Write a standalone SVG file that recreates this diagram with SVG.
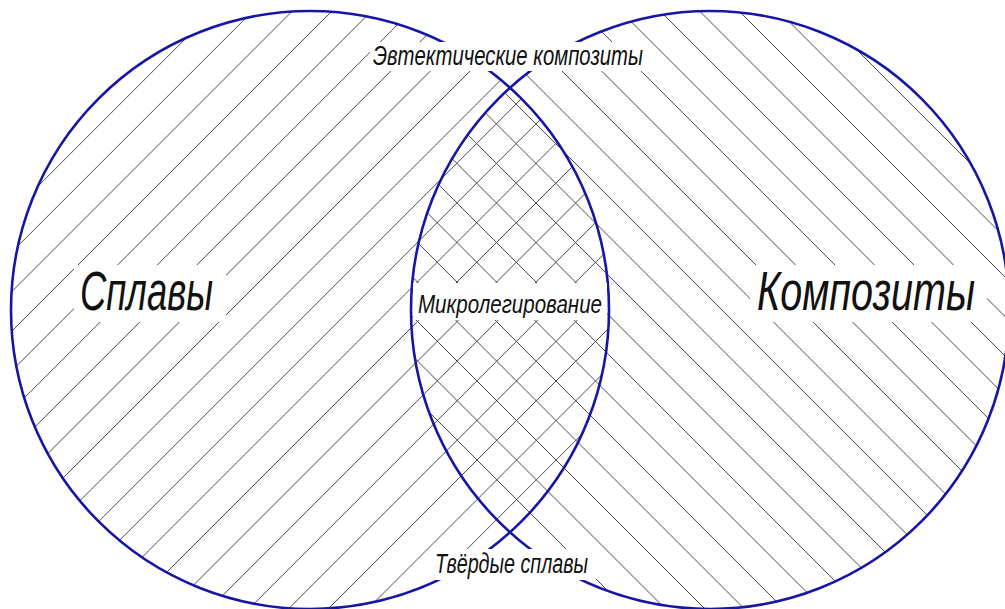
<svg xmlns="http://www.w3.org/2000/svg" width="1005" height="609" viewBox="0 0 1005 609">
<style>
.hatch line{stroke:#4a4a4a;stroke-width:1}
.ring{fill:none;stroke:#1616a6;stroke-width:2.6}
.mask{fill:#ffffff}
.lbl{font-family:"Liberation Sans Narrow","Liberation Sans",Arial,sans-serif;font-style:italic;fill:#111;lengthAdjust:spacingAndGlyphs}
</style>
<defs>
<clipPath id="clipL"><circle cx="310" cy="310" r="299"/></clipPath>
<clipPath id="clipR"><circle cx="710" cy="310" r="299"/></clipPath>
</defs>
<rect width="1005" height="609" fill="#ffffff"/>
<g id="hatch-alloys" class="hatch" clip-path="url(#clipL)">
<line x1="284.6" y1="-100" x2="-515.4" y2="700"/>
<line x1="324.2" y1="-100" x2="-475.8" y2="700"/>
<line x1="363.8" y1="-100" x2="-436.2" y2="700"/>
<line x1="403.4" y1="-100" x2="-396.6" y2="700"/>
<line x1="443" y1="-100" x2="-357" y2="700"/>
<line x1="482.6" y1="-100" x2="-317.4" y2="700"/>
<line x1="522.2" y1="-100" x2="-277.8" y2="700"/>
<line x1="561.8" y1="-100" x2="-238.2" y2="700"/>
<line x1="601.4" y1="-100" x2="-198.6" y2="700"/>
<line x1="641" y1="-100" x2="-159" y2="700"/>
<line x1="680.6" y1="-100" x2="-119.4" y2="700"/>
<line x1="720.2" y1="-100" x2="-79.8" y2="700"/>
<line x1="759.8" y1="-100" x2="-40.2" y2="700"/>
<line x1="799.4" y1="-100" x2="-0.6" y2="700"/>
<line x1="839" y1="-100" x2="39" y2="700"/>
<line x1="878.6" y1="-100" x2="78.6" y2="700"/>
<line x1="918.2" y1="-100" x2="118.2" y2="700"/>
<line x1="957.8" y1="-100" x2="157.8" y2="700"/>
<line x1="997.4" y1="-100" x2="197.4" y2="700"/>
<line x1="1037" y1="-100" x2="237" y2="700"/>
<line x1="1076.6" y1="-100" x2="276.6" y2="700"/>
<line x1="1116.2" y1="-100" x2="316.2" y2="700"/>
<line x1="1155.8" y1="-100" x2="355.8" y2="700"/>
</g>
<g id="hatch-composites" class="hatch" clip-path="url(#clipR)">
<line x1="-122.5" y1="-100" x2="677.5" y2="700"/>
<line x1="-83" y1="-100" x2="717" y2="700"/>
<line x1="-43.5" y1="-100" x2="756.5" y2="700"/>
<line x1="-4" y1="-100" x2="796" y2="700"/>
<line x1="35.5" y1="-100" x2="835.5" y2="700"/>
<line x1="75" y1="-100" x2="875" y2="700"/>
<line x1="114.5" y1="-100" x2="914.5" y2="700"/>
<line x1="154" y1="-100" x2="954" y2="700"/>
<line x1="193.5" y1="-100" x2="993.5" y2="700"/>
<line x1="233" y1="-100" x2="1033" y2="700"/>
<line x1="272.5" y1="-100" x2="1072.5" y2="700"/>
<line x1="312" y1="-100" x2="1112" y2="700"/>
<line x1="351.5" y1="-100" x2="1151.5" y2="700"/>
<line x1="391" y1="-100" x2="1191" y2="700"/>
<line x1="430.5" y1="-100" x2="1230.5" y2="700"/>
<line x1="470" y1="-100" x2="1270" y2="700"/>
<line x1="509.5" y1="-100" x2="1309.5" y2="700"/>
<line x1="549" y1="-100" x2="1349" y2="700"/>
<line x1="588.5" y1="-100" x2="1388.5" y2="700"/>
<line x1="628" y1="-100" x2="1428" y2="700"/>
<line x1="667.5" y1="-100" x2="1467.5" y2="700"/>
<line x1="707" y1="-100" x2="1507" y2="700"/>
<line x1="746.5" y1="-100" x2="1546.5" y2="700"/>
</g>
<g id="set-alloys"><circle class="ring" cx="310" cy="310" r="299"/></g>
<g id="set-composites"><circle class="ring" cx="710" cy="310" r="299"/></g>
<g id="label-alloys">
<rect class="mask" x="74" y="265" width="152" height="57"/>
<text class="lbl" x="80" y="310" font-size="55" textLength="133" lengthAdjust="spacingAndGlyphs">Сплавы</text>
</g>
<g id="label-composites">
<rect class="mask" x="750" y="265" width="237" height="57"/>
<text class="lbl" x="757" y="310" font-size="55" textLength="218" lengthAdjust="spacingAndGlyphs">Композиты</text>
</g>
<g id="label-eutectic">
<rect class="mask" x="370" y="42" width="277" height="29"/>
<text class="lbl" x="373" y="65" font-size="27" textLength="270" lengthAdjust="spacingAndGlyphs">Эвтектические композиты</text>
</g>
<g id="label-microalloying">
<rect class="mask" x="413" y="283" width="194" height="37"/>
<text class="lbl" x="418" y="313" font-size="25" textLength="184" lengthAdjust="spacingAndGlyphs">Микролегирование</text>
</g>
<g id="label-hardalloys">
<rect class="mask" x="428" y="549" width="168" height="31"/>
<text class="lbl" x="435" y="573" font-size="27" textLength="153" lengthAdjust="spacingAndGlyphs">Твёрдые сплавы</text>
</g>
</svg>
